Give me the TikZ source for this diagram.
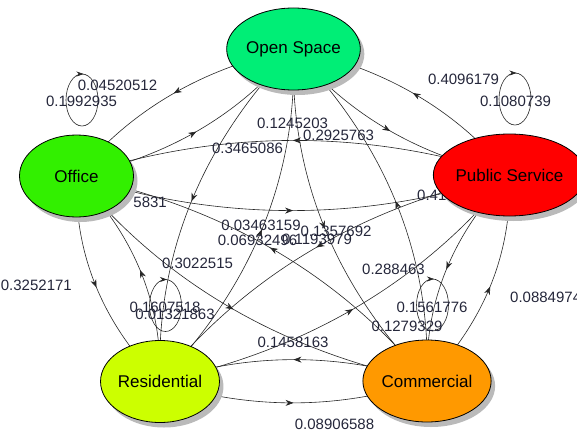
\documentclass[tikz,border=0pt]{standalone}
\usepackage{fontspec}
\setmainfont{Liberation Sans}
\usetikzlibrary{shapes.geometric,arrows.meta,decorations.markings,shadows,calc}
\definecolor{cOS}{RGB}{0,238,118}
\definecolor{cOF}{RGB}{50,240,0}
\definecolor{cPS}{RGB}{255,0,0}
\definecolor{cRE}{RGB}{204,255,0}
\definecolor{cCO}{RGB}{255,153,0}
\definecolor{lblcol}{RGB}{36,38,58}
\pgfdeclarelayer{edges}
\pgfdeclarelayer{labels}
\pgfsetlayers{edges,labels,main}
\tikzset{
  vtx/.style={ellipse, draw=black, line width=0.8pt, minimum width=114pt, minimum height=82pt,
    inner sep=0pt, font=\fontsize{17}{17}\selectfont,
    drop shadow={shadow xshift=4pt, shadow yshift=-5pt, fill=black!27, opacity=1}},
  lbl/.style={inner sep=0pt, text=lblcol, font=\fontsize{15}{15}\selectfont},
  edgeline/.style={draw=black!85, line width=0.6pt,
    postaction={decorate, decoration={markings,
      mark=at position 0.5 with {\arrow{Stealth[length=8pt,width=6pt]}}}}},
  loopline/.style={draw=black!85, line width=0.6pt}
}
\newcommand\gedge[2]{%
  \draw[edgeline] let \p1=(#1.center), \p2=(#2.center) in
   (#1.center) .. controls ({\x1 + 2/3*((\x2-\x1)/2 + 0.22*(\y2-\y1))}, {\y1 + 2/3*((\y2-\y1)/2 - 0.162*(\x2-\x1))})
   and ({\x2 + 2/3*((\x1-\x2)/2 + 0.22*(\y2-\y1))}, {\y2 + 2/3*((\y1-\y2)/2 - 0.162*(\x2-\x1))}) .. (#2.center);}
\newcommand\gloop[1]{%
  \draw[loopline] ($(#1.center)+(5.5,76)$) ellipse [x radius=16, y radius=26];
  \draw[loopline, -{Stealth[length=7pt,width=5pt]}] ($(#1.center)+(2,102)$) -- ($(#1.center)+(7,102)$);}
\begin{document}
\begin{tikzpicture}[x=1pt,y=1pt]
\useasboundingbox (0,0) rectangle (577,432);
% vertices
\node[vtx, fill=cOS] (OS) at (293.5,383) {Open Space};
\node[vtx, fill=cOF] (OF) at (76.5,256) {Office};
\node[vtx, fill=cPS] (PS) at (509.5,257) {Public Service};
\node[vtx, fill=cRE] (RE) at (160,50.5) {Residential};
\node[vtx, fill=cCO] (CO) at (427,51) {Commercial};
% edges
\begin{pgfonlayer}{edges}
\gedge{OS}{OF}\gedge{OF}{OS}
\gedge{OS}{PS}\gedge{PS}{OS}
\gedge{OS}{RE}\gedge{RE}{OS}
\gedge{OS}{CO}\gedge{CO}{OS}
\gedge{OF}{PS}\gedge{PS}{OF}
\gedge{OF}{RE}\gedge{RE}{OF}
\gedge{OF}{CO}\gedge{CO}{OF}
\gedge{PS}{RE}\gedge{RE}{PS}
\gedge{PS}{CO}\gedge{CO}{PS}
\gedge{RE}{CO}\gedge{CO}{RE}
\gloop{OF}\gloop{PS}\gloop{RE}\gloop{CO}
\end{pgfonlayer}
% labels
\begin{pgfonlayer}{labels}
\node[lbl] (l1) at (117.5,347) {0.04520512};
\node[lbl] (l2) at (81.5,331) {0.1992935};
\node[lbl] (l3) at (463.5,353) {0.4096179};
\node[lbl] (l4) at (515.5,331) {0.1080739};
\node[lbl] (l5) at (292.5,309) {0.1245203};
\node[lbl] (l6) at (338.5,297) {0.2925763};
\node[lbl] (l7) at (247.5,284) {0.3465086};
\node[lbl, anchor=west] (l8) at (417,237) {0.4188};
\node[lbl, anchor=east] (l9) at (167,230) {5831};
\node[lbl, anchor=east] (l10) at (72,147) {0.3252171};
\node[lbl] (l11) at (197.5,169) {0.3022515};
\node[lbl] (l12) at (165,125) {0.1607518};
\node[lbl] (l13) at (175,118) {0.01321863};
\node[lbl] (l14) at (261,207) {0.03463159};
\node[lbl] (l15) at (257.5,192) {0.06932496};
\node[lbl] (l16) at (336,201) {0.1357692};
\node[lbl] (l17) at (317,193) {0.1193979};
\node[lbl] (l18) at (393.5,163) {0.288463};
\node[lbl] (l19) at (432,125) {0.1561776};
\node[lbl] (l20) at (407,106) {0.1279329};
\node[lbl, anchor=west] (l21) at (510,135) {0.0884974};
\node[lbl] (l22) at (293,90) {0.1458163};
\node[lbl] (l23) at (334.5,8) {0.08906588};
\end{pgfonlayer}
\end{tikzpicture}
\end{document}
